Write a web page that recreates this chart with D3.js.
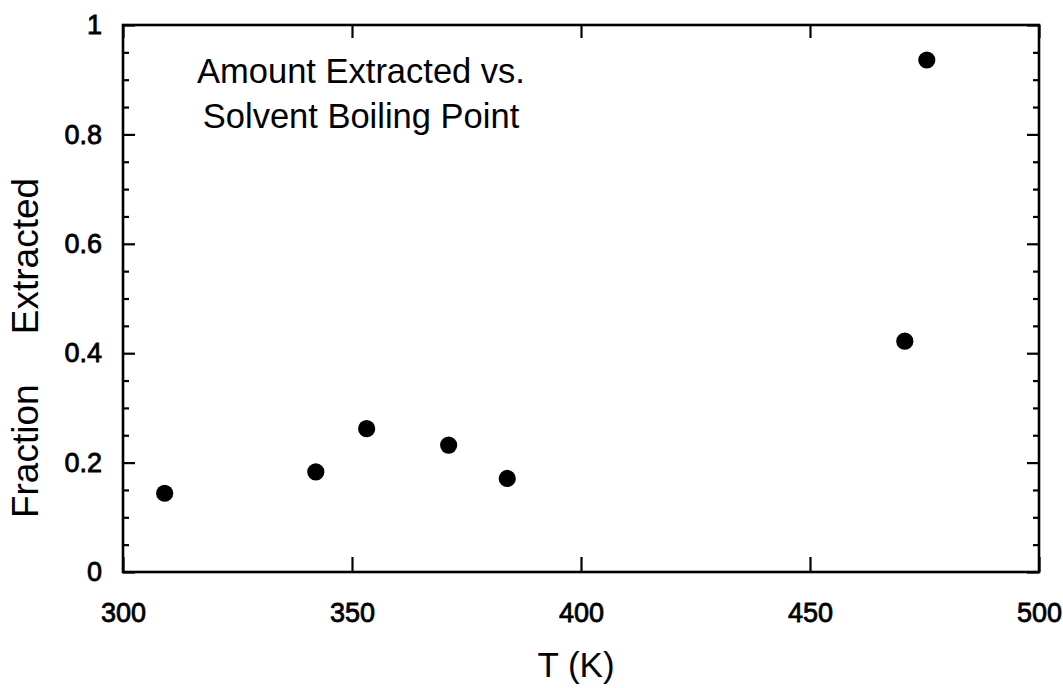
<!DOCTYPE html>
<meta charset="utf-8">
<style>
body { margin: 0; background: #fff; }
svg { font-family: "Liberation Sans", Arial, Helvetica, sans-serif; }
.axis path { display: none; }
.axis line { stroke: #000; stroke-width: 2.2px; }
.axis text { fill: #000; font-size: 27px; stroke: #000; stroke-width: 0.8px; }
.frame { fill: none; stroke: #000; stroke-width: 2.6px; }
.dot { fill: #000; }
</style>
<svg width="1063" height="688"></svg>
<script src="https://d3js.org/d3.v7.min.js"></script>
<script>

// boiling point (K) vs fraction extracted
var tempK    = [309.1, 342.1, 353.2, 371.1, 383.9, 470.7, 475.5];
var fraction = [0.144, 0.183, 0.262, 0.232, 0.171, 0.422, 0.936];

var xTicks = [300, 350, 400, 450, 500];
var xTickLabels = ["300", "350", "400", "450", "500"];
var yTicks = [0, 0.2, 0.4, 0.6, 0.8, 1];
var yTickLabels = ["0", "0.2", "0.4", "0.6", "0.8", "1"];
var yMinor = [0.05, 0.1, 0.15, 0.25, 0.3, 0.35, 0.45, 0.5, 0.55, 0.65, 0.7, 0.75, 0.85, 0.9, 0.95];

var svg = d3.select("svg"),
    margin = {top: 25, right: 24, bottom: 116, left: 123},
    width = +svg.attr("width") - margin.left - margin.right,
    height = +svg.attr("height") - margin.top - margin.bottom,
    g = svg.append("g").attr("transform", "translate(" + margin.left + "," + margin.top + ")");

var x = d3.scaleLinear().domain([300, 500]).range([0, width]);
var y = d3.scaleLinear().domain([0, 1]).range([height, 0]);

// bottom / top
g.append("g")
  .attr("class", "axis")
  .attr("transform", "translate(0," + height + ")")
  .call(d3.axisBottom(x).tickValues(xTicks)
    .tickFormat(function(d, i) { return xTickLabels[i]; })
    .tickSizeInner(-15).tickSizeOuter(0).tickPadding(31));

g.append("g")
  .attr("class", "axis")
  .call(d3.axisTop(x).tickValues(xTicks).tickFormat("")
    .tickSizeInner(-13).tickSizeOuter(0));

// left / right
g.append("g")
  .attr("class", "axis")
  .call(d3.axisLeft(y).tickValues(yTicks)
    .tickFormat(function(d, i) { return yTickLabels[i]; })
    .tickSizeInner(-12).tickSizeOuter(0).tickPadding(21));

g.append("g")
  .attr("class", "axis")
  .call(d3.axisLeft(y).tickValues(yMinor).tickFormat("")
    .tickSizeInner(-6).tickSizeOuter(0));

g.append("g")
  .attr("class", "axis")
  .attr("transform", "translate(" + width + ",0)")
  .call(d3.axisRight(y).tickValues(yTicks).tickFormat("")
    .tickSizeInner(-12).tickSizeOuter(0));

g.append("g")
  .attr("class", "axis")
  .attr("transform", "translate(" + width + ",0)")
  .call(d3.axisRight(y).tickValues(yMinor).tickFormat("")
    .tickSizeInner(-6).tickSizeOuter(0));

g.append("rect")
  .attr("class", "frame")
  .attr("width", width)
  .attr("height", height);

g.selectAll(".dot")
  .data(tempK)
  .enter().append("circle")
  .attr("class", "dot")
  .attr("cx", function(d) { return x(d); })
  .attr("cy", function(d, i) { return y(fraction[i]); })
  .attr("r", 8.6);

// titles
var note = svg.append("text")
  .attr("x", 361)
  .attr("y", 83)
  .attr("text-anchor", "middle")
  .style("font-size", "34.5px");
note.append("tspan").attr("x", 361).text("Amount Extracted vs.");
note.append("tspan").attr("x", 361).attr("dy", 45).text("Solvent Boiling Point");

svg.append("text")
  .attr("x", 576)
  .attr("y", 677)
  .attr("text-anchor", "middle")
  .style("font-size", "35px")
  .text("T (K)");

svg.append("text")
  .attr("transform", "translate(38,348) rotate(-90)")
  .attr("text-anchor", "middle")
  .style("font-size", "37px")
  .style("word-spacing", "40px")
  .text("Fraction Extracted");

</script>
